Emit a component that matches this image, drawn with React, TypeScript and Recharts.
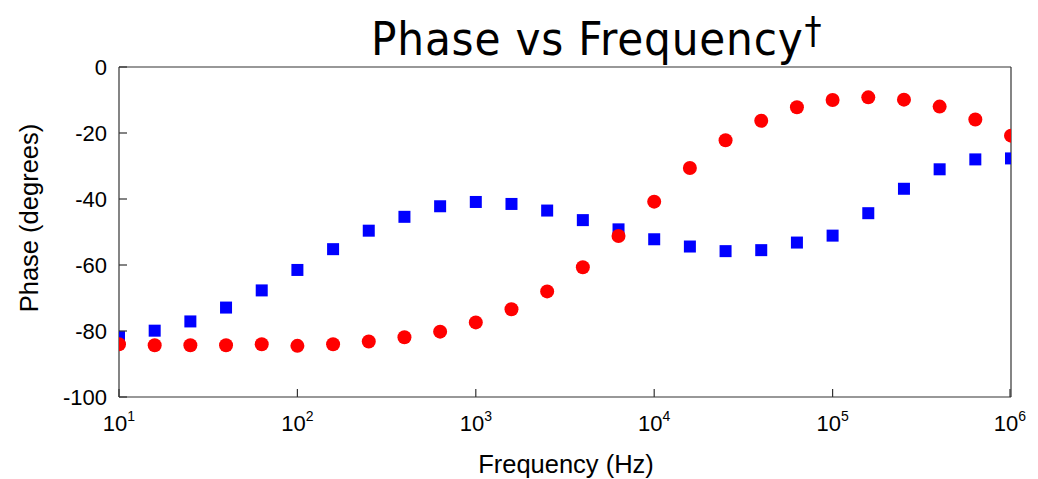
import { ScatterChart, Scatter, XAxis, YAxis, ReferenceLine } from 'recharts';

// frequencies (Hz), five points per decade
const freqs = [
  10, 15.85, 25.12, 39.81, 63.1, 100, 158.5, 251.2, 398.1, 631, 1000, 1585, 2512, 3981, 6310,
  10000, 15850, 25120, 39810, 63100, 100000, 158500, 251200, 398100, 631000, 1000000,
];

const phaseRed = [
  -84.0, -84.3, -84.3, -84.3, -84.0, -84.5, -84.0, -83.2, -81.9, -80.2, -77.4, -73.4, -68.0,
  -60.7, -51.2, -40.8, -30.6, -22.2, -16.3, -12.2, -10.0, -9.2, -9.9, -12.0, -15.9, -20.8,
];

const phaseBlue = [
  -81.8, -79.9, -77.1, -72.9, -67.7, -61.5, -55.2, -49.6, -45.4, -42.2, -40.9, -41.5, -43.5,
  -46.4, -49.2, -52.2, -54.4, -55.8, -55.5, -53.2, -51.1, -44.3, -36.9, -31.0, -28.0, -27.7,
];

const xTicks = [10, 100, 1000, 10000, 100000, 1000000];
const xExponents = ['1', '2', '3', '4', '5', '6'];
const yTicks = [-100, -80, -60, -40, -20, 0];

const redData = freqs.map((f, i) => ({ f, p: phaseRed[i] }));
const blueData = freqs.map((f, i) => ({ f, p: phaseBlue[i] }));

const AXIS = '#333333';
const TICK_FONT = 'Liberation Sans, Arial, sans-serif';

function XTick(props: any) {
  const { x, y, payload } = props;
  const idx = xTicks.indexOf(payload.value);
  return (
    <g>
      <line x1={x} y1={y} x2={x} y2={y - 8} stroke={AXIS} strokeWidth={1.2} />
      <text x={x} y={y + 34} textAnchor="middle" fontFamily={TICK_FONT} fontSize={22} fill="#000">
        10
        <tspan fontSize={14} dy={-10}>
          {xExponents[idx]}
        </tspan>
      </text>
    </g>
  );
}

function YTick(props: any) {
  const { x, y, payload } = props;
  return (
    <g>
      <line x1={x} y1={y} x2={x + 8} y2={y} stroke={AXIS} strokeWidth={1.2} />
      <text x={x - 12} y={y} dy={8} textAnchor="end" fontFamily={TICK_FONT} fontSize={22} fill="#000">
        {payload.value}
      </text>
    </g>
  );
}

function Square(props: any) {
  const { cx, cy } = props;
  return <rect x={cx - 6} y={cy - 6} width={12} height={12} fill="#0000ff" />;
}

function Dot(props: any) {
  const { cx, cy } = props;
  return <circle cx={cx} cy={cy} r={7} fill="#ff0000" />;
}

export default function App() {
  return (
    <div style={{ position: 'absolute', left: 0, top: 0, width: 1038, height: 479, background: '#fff' }}>
      <svg width={1038} height={67} style={{ position: 'absolute', left: 0, top: 0 }}>
        <text
          x={371}
          y={55}
          fontFamily="DejaVu Sans Condensed, DejaVu Sans, sans-serif"
          fontSize={47}
          letterSpacing={0.8}
          fill="#000"
        >
          Phase vs Frequency
          <tspan fontSize={38} dy={-12} dx={1}>
            †
          </tspan>
        </text>
      </svg>
      <ScatterChart width={1038} height={479} margin={{ top: 67, right: 27, left: 0, bottom: 0 }}>
        <XAxis
          type="number"
          dataKey="f"
          scale="log"
          domain={[10, 1000000]}
          ticks={xTicks}
          tickSize={0}
          tickMargin={0}
          tickLine={false}
          tick={<XTick />}
          height={82}
          axisLine={{ stroke: AXIS, strokeWidth: 1.2 }}
          allowDataOverflow
          label={{
            content: () => (
              <text x={566} y={473} textAnchor="middle" fontFamily={TICK_FONT} fontSize={25.5} fill="#000">
                Frequency (Hz)
              </text>
            ),
          }}
        />
        <YAxis
          type="number"
          dataKey="p"
          domain={[-100, 0]}
          ticks={yTicks}
          tickSize={0}
          tickMargin={0}
          tickLine={false}
          tick={<YTick />}
          width={119}
          axisLine={{ stroke: AXIS, strokeWidth: 1.2 }}
          allowDataOverflow
          label={{
            content: () => (
              <text
                x={38}
                y={218}
                transform="rotate(-90 38 218)"
                textAnchor="middle"
                fontFamily={TICK_FONT}
                fontSize={25.5}
                fill="#000"
              >
                Phase (degrees)
              </text>
            ),
          }}
        />
        <ReferenceLine y={0} stroke={AXIS} strokeWidth={1.2} />
        <ReferenceLine x={1000000} stroke={AXIS} strokeWidth={1.2} />
        <Scatter data={blueData} shape={<Square />} isAnimationActive={false} />
        <Scatter data={redData} shape={<Dot />} isAnimationActive={false} />
      </ScatterChart>
    </div>
  );
}
